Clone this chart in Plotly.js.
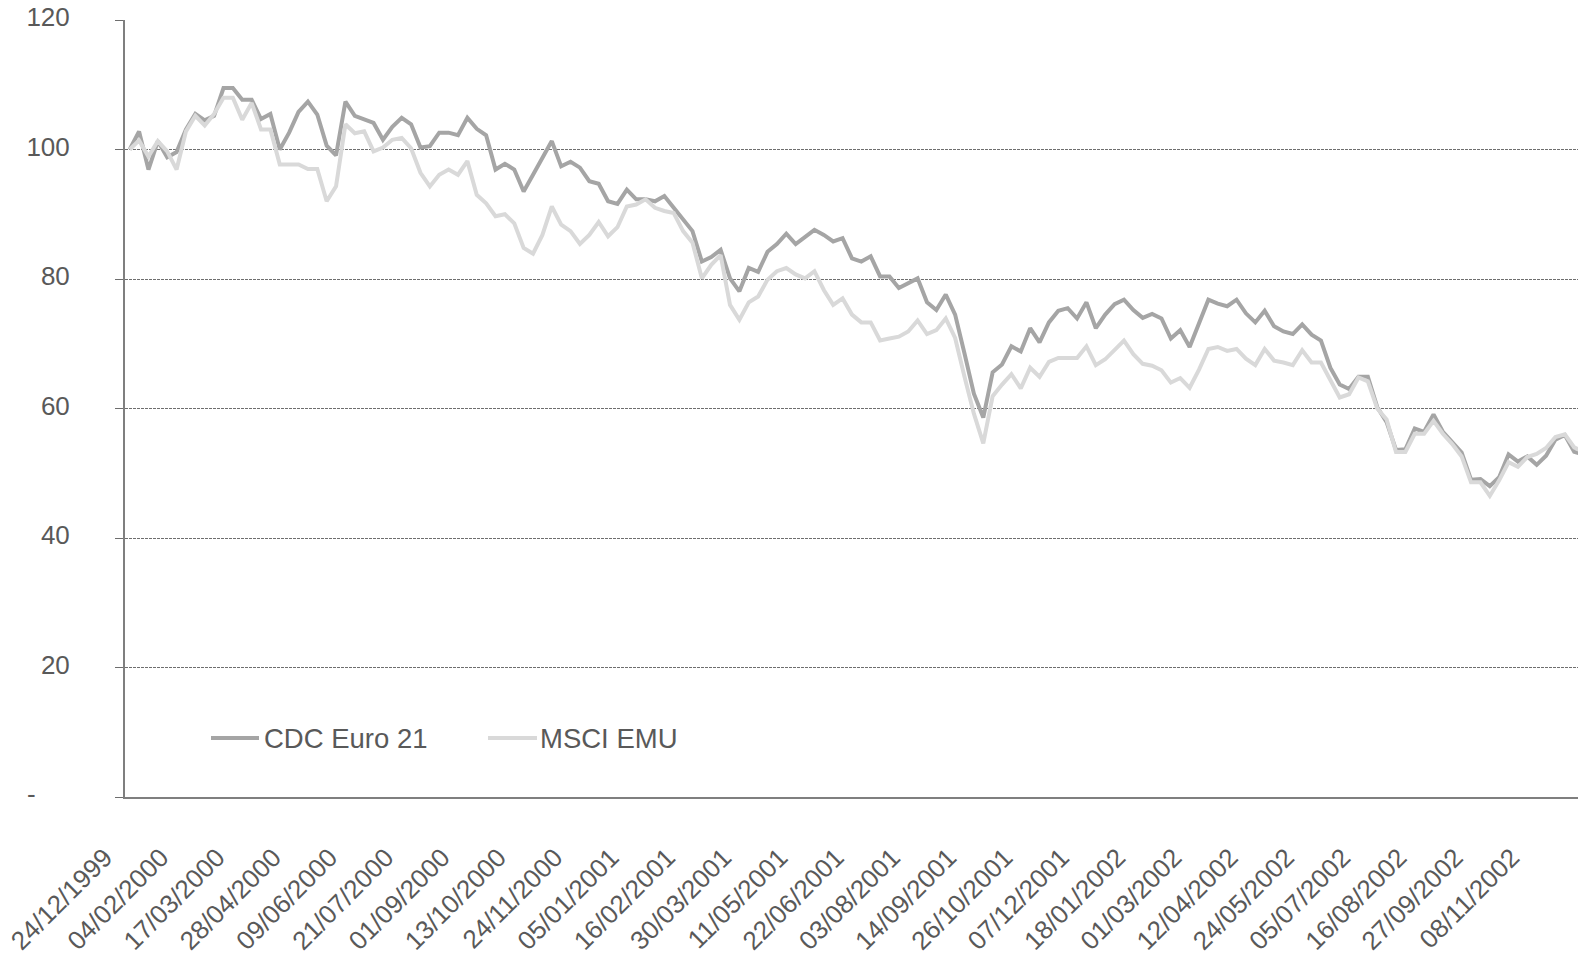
<!DOCTYPE html>
<html>
<head>
<meta charset="utf-8">
<script src="https://cdn.plot.ly/plotly-3.0.1.min.js"></script>
<style>
  html, body { margin: 0; padding: 0; background: #ffffff; }
  #chart { width: 1578px; height: 955px; }
</style>
</head>
<body>
<div id="chart"></div>
<script>
// Series names
const seriesNames = ["CDC Euro 21", "MSCI EMU"];

// Weekly index values (base 100 on 24/12/1999)
const cdcEuro21 = [
  100, 102.8, 96.9, 101.3, 98.8, 99.6, 103.1, 105.5, 104.5, 105.2,
  109.5, 109.5, 107.7, 107.7, 104.7, 105.5, 100, 102.6, 105.8, 107.4,
  105.4, 100.6, 99.1, 107.4, 105.2, 104.6, 104.1, 101.5, 103.5, 104.9,
  103.9, 100.3, 100.5, 102.6, 102.6, 102.2, 104.9, 103.2, 102.2, 96.9,
  97.8, 96.9, 93.5, 96.1, 98.7, 101.3, 97.4, 98.1, 97.2, 95.1,
  94.7, 92.0, 91.6, 93.8, 92.3, 92.3, 92.0, 92.8, 91.0, 89.2,
  87.4, 82.7, 83.4, 84.5, 80.1, 78.1, 81.7, 81.1, 84.2, 85.4,
  87.0, 85.4, 86.6, 87.6, 86.8, 85.8, 86.3, 83.2, 82.7, 83.5,
  80.4, 80.4, 78.6, 79.4, 80.1, 76.4, 75.2, 77.6, 74.5, 68.5,
  62.3, 58.6, 65.6, 66.8, 69.6, 68.8, 72.4, 70.2, 73.3, 75.1,
  75.5, 73.9, 76.4, 72.4, 74.5, 76.1, 76.8, 75.2, 74.0, 74.6,
  73.9, 70.8, 72.1, 69.5, 73.1, 76.8, 76.2, 75.8, 76.8, 74.7,
  73.3, 75.1, 72.7, 71.9, 71.5, 73.0, 71.4, 70.5, 66.3, 63.7,
  63.0, 64.9, 64.9, 60.2, 57.9, 53.6, 53.7, 56.9, 56.4, 59.1,
  56.4, 54.8, 53.2, 49.0, 49.1, 48.0, 49.4, 52.9, 51.8, 52.6,
  51.3, 52.7, 55.2, 55.9, 53.3, 52.9
];

const msciEmu = [
  100, 101.4, 98.9, 101.3, 99.7, 96.9, 102.8, 105.2, 103.7, 105.5,
  108.0, 108.0, 104.6, 107.2, 103.1, 103.1, 97.7, 97.7, 97.7, 97.0,
  97.0, 92.0, 94.3, 103.9, 102.5, 102.8, 99.7, 100.3, 101.5, 101.8,
  100.2, 96.4, 94.3, 96.1, 96.9, 96.1, 98.2, 93.0, 91.7, 89.7,
  90.0, 88.6, 84.8, 83.9, 86.8, 91.2, 88.4, 87.4, 85.4, 86.8,
  88.8, 86.6, 88.0, 91.2, 91.5, 92.3, 91.0, 90.5, 90.2, 87.4,
  85.6, 80.1, 82.2, 83.7, 76.0, 73.7, 76.4, 77.3, 79.9, 81.2,
  81.7, 80.7, 80.1, 81.2, 78.3, 76.0, 77.0, 74.5, 73.3, 73.3,
  70.5, 70.8, 71.1, 71.9, 73.6, 71.5, 72.1, 73.9, 70.9, 64.9,
  59.2, 54.6, 61.9, 63.7, 65.3, 63.1, 66.3, 64.9, 67.2, 67.8,
  67.8, 67.8, 69.6, 66.7, 67.6, 69.0, 70.5, 68.4, 66.9, 66.6,
  65.9, 64.0, 64.7, 63.2, 66.0, 69.2, 69.5, 68.9, 69.2, 67.7,
  66.7, 69.2, 67.4, 67.1, 66.7, 69.0, 67.1, 67.1, 64.3, 61.7,
  62.2, 64.8, 64.2, 60.0, 58.3, 53.3, 53.3, 56.1, 56.1, 58.1,
  56.1, 54.5, 52.6, 48.6, 48.6, 46.5, 48.9, 51.7, 51.0, 52.5,
  53.0, 53.9, 55.6, 56.0, 54.0, 53.3
];

// Tick labels shown on the category axis (every 6th week)
const tickLabels = [
  "24/12/1999", "04/02/2000", "17/03/2000", "28/04/2000", "09/06/2000",
  "21/07/2000", "01/09/2000", "13/10/2000", "24/11/2000", "05/01/2001",
  "16/02/2001", "30/03/2001", "11/05/2001", "22/06/2001", "03/08/2001",
  "14/09/2001", "26/10/2001", "07/12/2001", "18/01/2002", "01/03/2002",
  "12/04/2002", "24/05/2002", "05/07/2002", "16/08/2002", "27/09/2002",
  "08/11/2002"
];

// Y-axis tick values and labels
const yTickVals = [0, 20, 40, 60, 80, 100, 120];
const yTickText = ["-\u00a0\u00a0\u00a0\u00a0\u2009", "20", "40", "60", "80", "100", "120"];

// Weekly category dates (Fridays), starting on the first tick label
function pad(n) { return (n < 10 ? "0" : "") + n; }
const startMs = Date.UTC(1999, 11, 24);
const dates = cdcEuro21.map(function (_, i) {
  const d = new Date(startMs + i * 7 * 86400000);
  return pad(d.getUTCDate()) + "/" + pad(d.getUTCMonth() + 1) + "/" + d.getUTCFullYear();
});

const W = 1578, H = 955;
const M = { l: 125, r: 0, t: 20, b: 158 };
const plotW = W - M.l - M.r, plotH = H - M.t - M.b;
function px(x) { return (x - M.l) / plotW; }
function py(y) { return (H - M.b - y) / plotH; }

const textColor = "#595959";
const darkLine = "#a5a5a5";
const lightLine = "#d9d9d9";
const fontFam = "Liberation Sans, Arial, sans-serif";

const traces = [
  {
    x: dates, y: cdcEuro21, name: seriesNames[0], type: "scatter", mode: "lines",
    line: { color: darkLine, width: 4 }, hoverinfo: "skip"
  },
  {
    x: dates, y: msciEmu, name: seriesNames[1], type: "scatter", mode: "lines",
    line: { color: lightLine, width: 4 }, hoverinfo: "skip"
  }
];

const legendY = py(738);
const layout = {
  width: W, height: H, autosize: false,
  margin: M,
  paper_bgcolor: "#ffffff", plot_bgcolor: "#ffffff",
  showlegend: false,
  font: { family: fontFam, size: 26, color: textColor },
  xaxis: {
    type: "category",
    range: [-0.5, (plotW / 9.38) - 0.5],
    tickmode: "array",
    tickvals: tickLabels,
    ticktext: tickLabels,
    tickangle: -45,
    ticks: "",
    showgrid: false,
    zeroline: false,
    showline: true, linecolor: "#7f7f7f", linewidth: 2,
    tickfont: { family: fontFam, size: 26, color: textColor },
    ticklabelshift: -25,
    ticklabelstandoff: 33,
    fixedrange: true
  },
  yaxis: {
    range: [0, 120],
    tickmode: "array",
    tickvals: yTickVals,
    ticktext: yTickText,
    ticks: "outside", ticklen: 8, tickwidth: 1, tickcolor: "#6e6e6e",
    showgrid: true, gridcolor: "#6e6e6e", gridwidth: 1, griddash: "3px,1px",
    zeroline: false,
    showline: true, linecolor: "#7f7f7f", linewidth: 2,
    tickfont: { family: fontFam, size: 26, color: textColor },
    ticklabelstandoff: 40,
    ticklabelshift: -3,
    fixedrange: true
  },
  shapes: [
    { type: "line", xref: "paper", yref: "paper", x0: px(211), x1: px(259), y0: legendY, y1: legendY,
      line: { color: darkLine, width: 4 } },
    { type: "line", xref: "paper", yref: "paper", x0: px(488), x1: px(537), y0: legendY, y1: legendY,
      line: { color: lightLine, width: 4 } }
  ],
  annotations: [
    { xref: "paper", yref: "paper", x: px(262), y: legendY, xanchor: "left", yanchor: "middle",
      text: seriesNames[0], showarrow: false, font: { family: fontFam, size: 27.5, color: textColor } },
    { xref: "paper", yref: "paper", x: px(538), y: legendY, xanchor: "left", yanchor: "middle",
      text: seriesNames[1], showarrow: false, font: { family: fontFam, size: 27.5, color: textColor } }
  ]
};

Plotly.newPlot("chart", traces, layout, { displayModeBar: false, staticPlot: true });
</script>
</body>
</html>
